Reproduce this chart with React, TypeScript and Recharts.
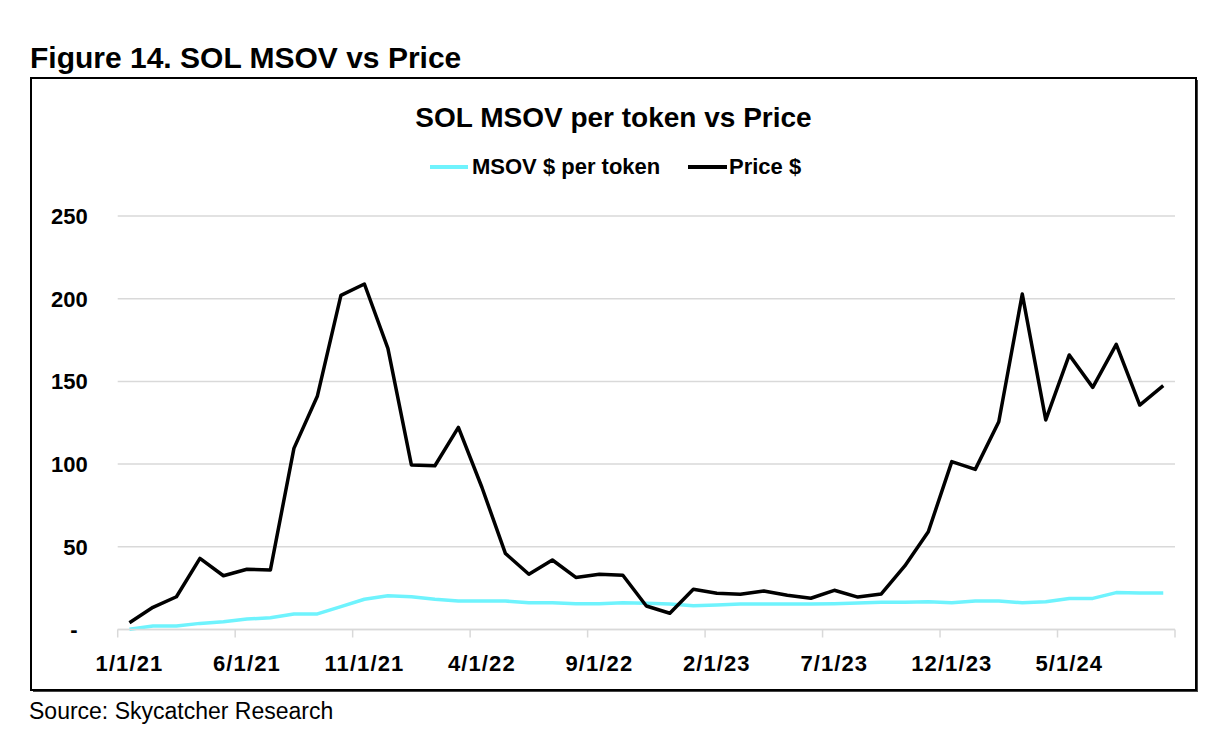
import React from "react";
import { LineChart, Line, XAxis, YAxis, CartesianGrid } from "recharts";

const dates = [
  "1/1/21", "2/1/21", "3/1/21", "4/1/21", "5/1/21", "6/1/21", "7/1/21", "8/1/21", "9/1/21", "10/1/21", "11/1/21", "12/1/21",
  "1/1/22", "2/1/22", "3/1/22", "4/1/22", "5/1/22", "6/1/22", "7/1/22", "8/1/22", "9/1/22", "10/1/22", "11/1/22", "12/1/22",
  "1/1/23", "2/1/23", "3/1/23", "4/1/23", "5/1/23", "6/1/23", "7/1/23", "8/1/23", "9/1/23", "10/1/23", "11/1/23", "12/1/23",
  "1/1/24", "2/1/24", "3/1/24", "4/1/24", "5/1/24", "6/1/24", "7/1/24", "8/1/24", "9/1/24",
];

const priceValues = [
  4.1, 13.4, 19.8, 43, 32.5, 36.4, 36, 109.5, 141.2, 202, 208.9, 170,
  99.5, 99, 122.2, 86, 46, 33.4, 42, 31.5, 33.4, 32.8, 14.2, 9.8,
  24.3, 21.9, 21.3, 23.3, 20.7, 18.9, 23.7, 19.6, 21.5, 38.4, 59.1, 101.5,
  96.8, 125.6, 202.8, 126.7, 166, 146.4, 172.4, 135.7, 147.4,
];

const msovValues = [
  0.1, 2.1, 2.1, 3.7, 4.7, 6.3, 7.1, 9.4, 9.4, 13.8, 18.3, 20.4,
  19.8, 18.3, 17.2, 17.2, 17.2, 16.2, 16.2, 15.6, 15.6, 16.2, 15.8, 15.4,
  14.4, 14.8, 15.4, 15.4, 15.4, 15.4, 15.6, 16.0, 16.4, 16.4, 16.8, 16.2,
  17.2, 17.2, 16.2, 16.8, 18.8, 18.8, 22.3, 22, 22,
];

const yTicks = [0, 50, 100, 150, 200, 250];
const LABEL_EVERY = 5;

const data = dates.map((d, i) => ({ date: d, msov: msovValues[i], price: priceValues[i] }));

const FONT = '"Liberation Sans", Arial, sans-serif';
const GRID = "#d9d9d9";
const CYAN = "#6ff3fd";
const HALF_BAND = 11.75;

const XTick = (props: any) => {
  const { x, y, payload, index, visibleTicksCount } = props;
  const isLabel = index % LABEL_EVERY === 0;
  const isLast = index === visibleTicksCount - 1;
  return (
    <g>
      {isLabel && (
        <line x1={x - HALF_BAND} y1={y} x2={x - HALF_BAND} y2={y + 8} stroke={GRID} strokeWidth={1.5} />
      )}
      {isLast && (
        <line x1={x + HALF_BAND} y1={y} x2={x + HALF_BAND} y2={y + 8} stroke={GRID} strokeWidth={1.5} />
      )}
      {isLabel && (
        <text x={x} y={y + 41.5} textAnchor="middle" fontFamily={FONT} fontSize={22} fontWeight="bold" letterSpacing={1.1} fill="#000">
          {payload.value}
        </text>
      )}
    </g>
  );
};

const YTick = (props: any) => {
  const { x, y, payload } = props;
  const isZero = payload.value === 0;
  return (
    <text x={isZero ? x - 40 : x - 30} y={y} dy="0.36em" textAnchor="end" fontFamily={FONT} fontSize={22} fontWeight="bold" fill="#000">
      {isZero ? "-" : payload.value}
    </text>
  );
};

export default function App() {
  return (
    <div style={{ position: "absolute", left: 0, top: 0, width: 1226, height: 734, background: "#fff" }}>
      <svg width={1226} height={734} style={{ position: "absolute", left: 0, top: 0 }}>
        <text x={30} y={67.5} fontFamily={FONT} fontSize={30} fontWeight="bold" fill="#000">
          Figure 14. SOL MSOV vs Price
        </text>
        <rect x={31} y={78} width={1165} height={612} fill="none" stroke="#000" strokeWidth={2} />
        <line x1={1197.5} y1={80} x2={1197.5} y2={692} stroke="#444" strokeWidth={1} />
        <line x1={33} y1={691.5} x2={1197.5} y2={691.5} stroke="#444" strokeWidth={1} />
        <text x={613.5} y={126.5} textAnchor="middle" fontFamily={FONT} fontSize={28} fontWeight="bold" fill="#000">
          SOL MSOV per token vs Price
        </text>
        <line x1={430} y1={167} x2={468} y2={167} stroke={CYAN} strokeWidth={4} />
        <text x={472} y={173.5} fontFamily={FONT} fontSize={22} fontWeight="bold" fill="#000">
          MSOV $ per token
        </text>
        <line x1={688} y1={167} x2={727} y2={167} stroke="#000" strokeWidth={4} />
        <text x={729} y={173.5} fontFamily={FONT} fontSize={22} fontWeight="bold" fill="#000">
          Price $
        </text>
        <text x={29} y={718.5} fontFamily={FONT} fontSize={23} fill="#000">
          Source: Skycatcher Research
        </text>
      </svg>
      <div style={{ position: "absolute", left: 0, top: 0 }}>
        <LineChart width={1226} height={734} data={data} margin={{ top: 216, right: 51, left: 0, bottom: 0 }}>
          <CartesianGrid vertical={false} stroke={GRID} strokeWidth={1.5} />
          <XAxis
            dataKey="date"
            interval={0}
            tickLine={false}
            axisLine={{ stroke: GRID, strokeWidth: 1.5 }}
            tickSize={0}
            tickMargin={0}
            padding={{ left: HALF_BAND, right: HALF_BAND }}
            tick={XTick}
            height={104.5}
          />
          <YAxis
            domain={[0, 250]}
            ticks={yTicks}
            axisLine={false}
            tickLine={false}
            tickSize={0}
            tickMargin={0}
            width={117.7}
            tick={YTick}
          />
          <Line dataKey="msov" stroke={CYAN} strokeWidth={3.5} dot={false} isAnimationActive={false} strokeLinejoin="round" />
          <Line dataKey="price" stroke="#000" strokeWidth={3.5} dot={false} isAnimationActive={false} strokeLinejoin="round" />
        </LineChart>
      </div>
    </div>
  );
}
